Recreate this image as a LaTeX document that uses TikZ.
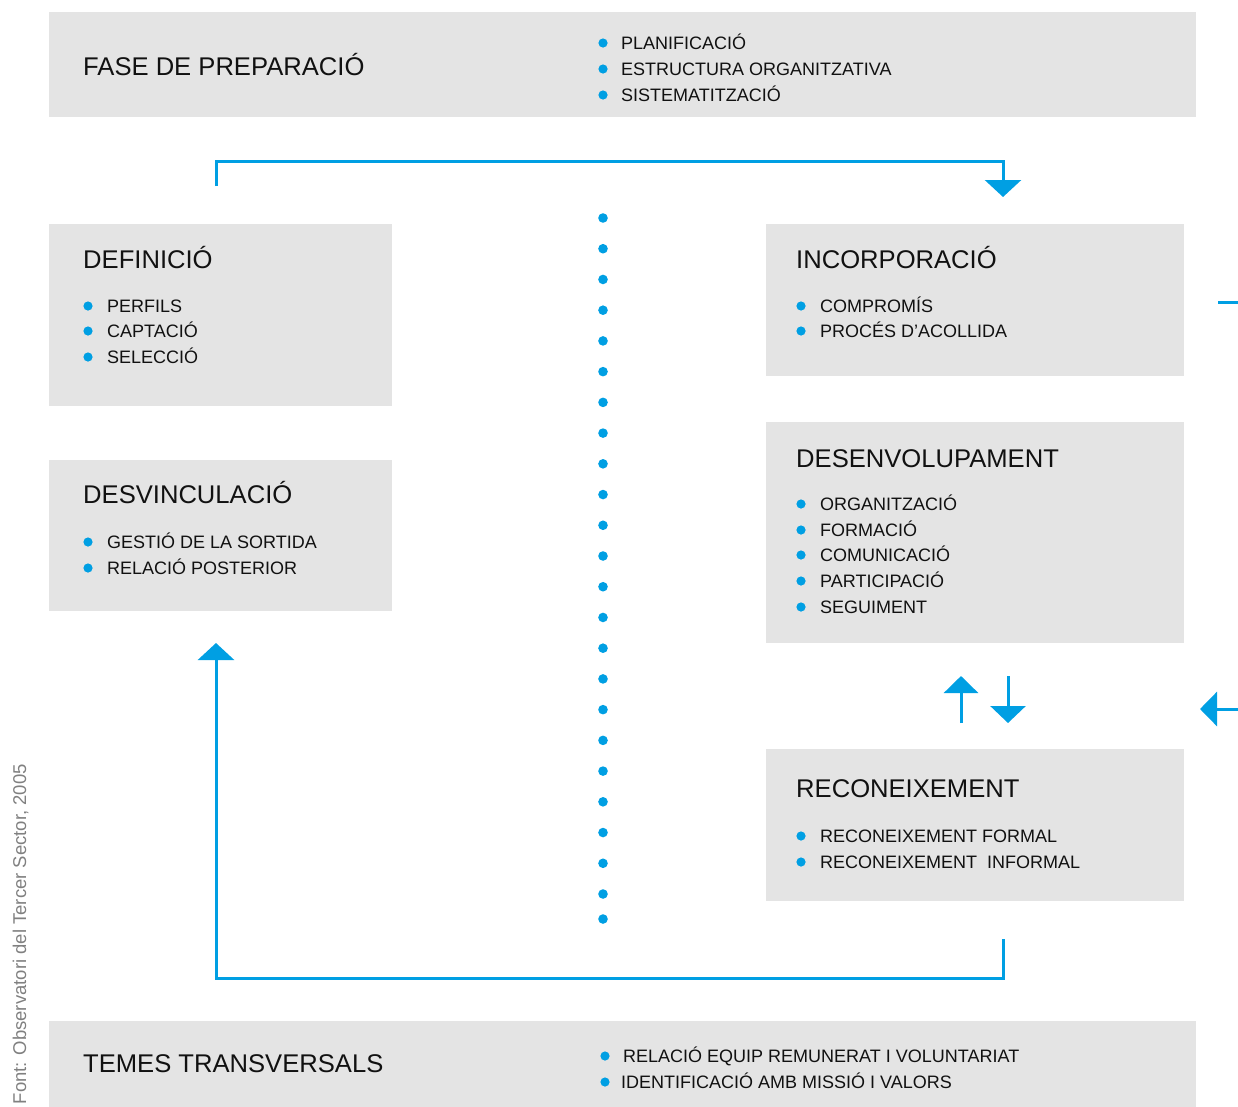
\documentclass[tikz,border=0pt]{standalone}
\usepackage{fontspec}
\setmainfont{Liberation Sans}
\usetikzlibrary{arrows.meta}
\definecolor{cblue}{HTML}{009FE3}
\definecolor{cgray}{HTML}{E4E4E4}
\definecolor{ctext}{HTML}{111111}
\definecolor{cnote}{HTML}{808080}
\tikzset{
  box/.style={fill=cgray, draw=none, anchor=north west, inner sep=0pt},
  ttl/.style={anchor=base west, inner sep=0pt, text=ctext, font=\fontsize{25.6}{30}\selectfont},
  itm/.style={anchor=base west, inner sep=0pt, text=ctext, font=\fontsize{18}{21}\selectfont},
  conn/.style={draw=cblue, line width=3pt},
  head/.style={-{Triangle[width=36pt,length=17pt]}},
}
\newcommand{\bdot}[2]{\fill[cblue] (#1,#2) circle (4.6);}
\begin{document}
\begin{tikzpicture}[x=1pt,y=-1pt]
\useasboundingbox (0,0) rectangle (1238,1106);
% boxes
\node[box, minimum width=1147, minimum height=105] (prep) at (49,12) {};
\node[box, minimum width=343, minimum height=182] (def) at (49,224) {};
\node[box, minimum width=343, minimum height=151] (desv) at (49,460) {};
\node[box, minimum width=418, minimum height=152] (inc) at (766,224) {};
\node[box, minimum width=418, minimum height=221] (dev) at (766,422) {};
\node[box, minimum width=418, minimum height=152] (rec) at (766,749) {};
\node[box, minimum width=1147, minimum height=86] (tem) at (49,1021) {};
% top box
\node[ttl] (prepT) at (83,75) {FASE DE PREPARACIÓ};
\bdot{603}{43}\node[itm] (p1) at (621,49) {PLANIFICACIÓ};
\bdot{603}{69}\node[itm] (p2) at (621,75) {ESTRUCTURA ORGANITZATIVA};
\bdot{603}{95}\node[itm] (p3) at (621,101) {SISTEMATITZACIÓ};
% definicio
\node[ttl] (defT) at (83,268) {DEFINICIÓ};
\bdot{88}{306}\node[itm] (d1) at (107,312) {PERFILS};
\bdot{88}{331}\node[itm] (d2) at (107,337) {CAPTACIÓ};
\bdot{88}{357}\node[itm] (d3) at (107,363) {SELECCIÓ};
% desvinculacio
\node[ttl] (desT) at (83,503) {DESVINCULACIÓ};
\bdot{88}{542}\node[itm] (s1) at (107,548) {GESTIÓ DE LA SORTIDA};
\bdot{88}{568}\node[itm] (s2) at (107,574) {RELACIÓ POSTERIOR};
% incorporacio
\node[ttl] (incT) at (796,268) {INCORPORACIÓ};
\bdot{801}{306}\node[itm] (i1) at (820,312) {COMPROMÍS};
\bdot{801}{331}\node[itm] (i2) at (820,337) {PROCÉS D’ACOLLIDA};
% desenvolupament
\node[ttl] (devT) at (796,467) {DESENVOLUPAMENT};
\bdot{801}{504}\node[itm] (v1) at (820,510) {ORGANITZACIÓ};
\bdot{801}{530}\node[itm] (v2) at (820,536) {FORMACIÓ};
\bdot{801}{555}\node[itm] (v3) at (820,561) {COMUNICACIÓ};
\bdot{801}{581}\node[itm] (v4) at (820,587) {PARTICIPACIÓ};
\bdot{801}{607}\node[itm] (v5) at (820,613) {SEGUIMENT};
% reconeixement
\node[ttl] (recT) at (796,797) {RECONEIXEMENT};
\bdot{801}{836}\node[itm] (r1) at (820,842) {RECONEIXEMENT FORMAL};
\bdot{801}{862}\node[itm] (r2) at (820,868) {RECONEIXEMENT\ \ INFORMAL};
% temes
\node[ttl] (temT) at (83,1072) {TEMES TRANSVERSALS};
\bdot{605}{1056}\node[itm] (t1) at (623,1062) {RELACIÓ EQUIP REMUNERAT I VOLUNTARIAT};
\bdot{605}{1082}\node[itm] (t2) at (621,1088) {IDENTIFICACIÓ AMB MISSIÓ I VALORS};
% dotted divider
\foreach \i in {0,...,22} { \fill[cblue] (603,218+30.727*\i) circle (4.8); }
\fill[cblue] (603,919) circle (4.8);
% connectors
\coordinate (a0) at (216,186);
\coordinate (a1) at (1003,161);
\coordinate (a2) at (1003,197);
\draw[conn, head] (a0) |- (a1) -- (a2);
\coordinate (b0) at (1003,939);
\coordinate (b1) at (216,978);
\coordinate (b2) at (216,643);
\draw[conn, head] (b0) |- (b1) -- (b2);
\coordinate (u0) at (961,723);
\coordinate (u1) at (961,676);
\draw[conn, -{Triangle[width=34pt,length=17pt]}] (u0) -- (u1);
\coordinate (w0) at (1008,676);
\coordinate (w1) at (1008,723);
\draw[conn, -{Triangle[width=35pt,length=17pt]}] (w0) -- (w1);
\coordinate (e0) at (1238,709);
\coordinate (e1) at (1200,709);
\draw[conn, -{Triangle[width=34pt,length=17pt]}] (e0) -- (e1);
\coordinate (f0) at (1218,302);
\coordinate (f1) at (1238,302);
\draw[conn] (f0) -- (f1);
% source note
\node[rotate=90, anchor=base east, inner sep=0pt, text=cnote, font=\fontsize{18.5}{22}\selectfont] (note) at (26,764) {Font: Observatori del Tercer Sector, 2005};
\end{tikzpicture}
\end{document}
